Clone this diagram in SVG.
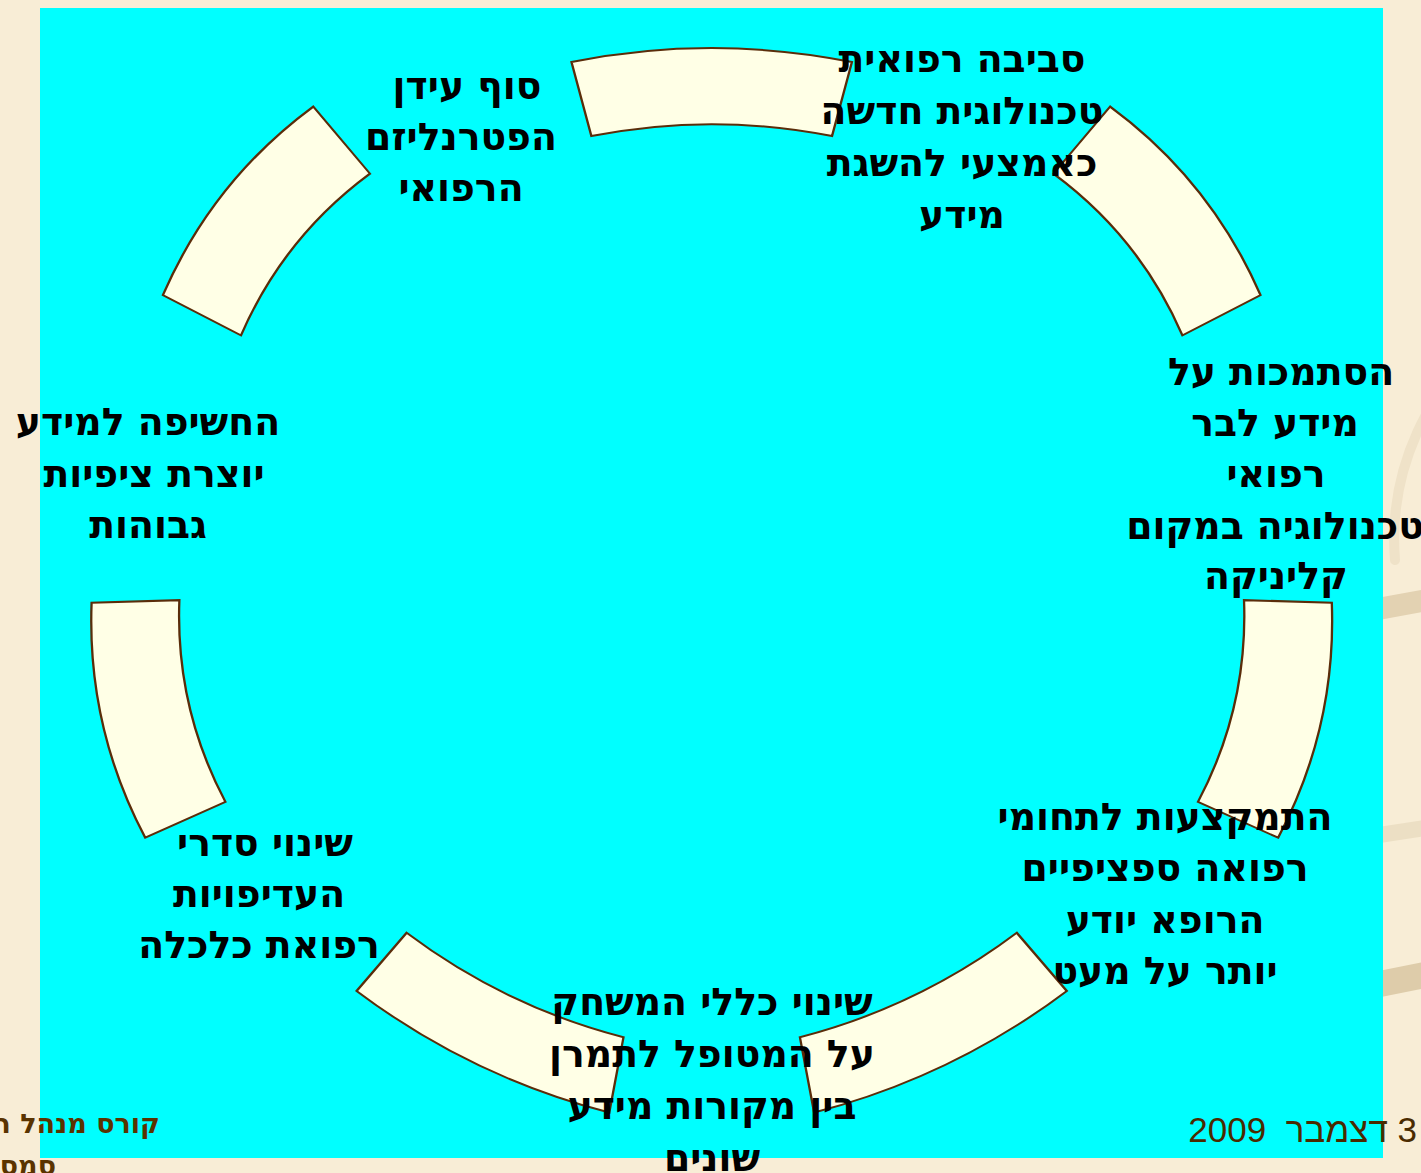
<svg xmlns="http://www.w3.org/2000/svg" width="1421" height="1173" viewBox="0 0 1421 1173">
  <style>
    .arc { fill: #FFFFE6; stroke: #5A2D0A; stroke-width: 2; stroke-linejoin: miter; }
    .lbl { font-family: "DejaVu Sans", "Liberation Sans", sans-serif; font-weight: bold; font-size: 37.8px; fill: #000000; text-anchor: middle; }
    .foot { font-family: "DejaVu Sans", "Liberation Sans", sans-serif; font-weight: bold; font-size: 27px; fill: #5A3300; }
    .date { font-family: "Liberation Sans", "DejaVu Sans", sans-serif; font-size: 35px; fill: #4A2A00; }
    .swoosh { fill: none; stroke-linecap: round; }
  </style>
  <defs>
    <path id="blockArc" d="M -120.57,-522.27 A 536 536 0 0 1 120.57,-522.27 L 103.48,-448.21 A 460 460 0 0 0 -103.48,-448.21 Z"/>
  </defs>

  <!-- background -->
  <rect x="0" y="0" width="1421" height="1173" fill="#F8EDD6"/>
  <g id="background-swooshes">
    <path class="swoosh" d="M 1500,330 A 260 260 0 0 0 1395,560" stroke="#EFE2C8" stroke-width="10"/>
    <path class="swoosh" d="M 1250,640 Q 1350,612 1440,598" stroke="#E3D2B2" stroke-width="22"/>
    <path class="swoosh" d="M 1250,860 Q 1350,838 1440,826" stroke="#ECDFC4" stroke-width="16"/>
    <path class="swoosh" d="M 1250,1010 Q 1350,990 1440,972" stroke="#DECCAA" stroke-width="26"/>
  </g>
  <rect x="40" y="8" width="1343" height="1150" fill="#00FFFF"/>

  <!-- connectors (block arcs) -->
  <g id="connectors">
    <use href="#blockArc" class="arc" transform="translate(711.7,584.3) scale(1.163,1)"/>
    <use href="#blockArc" class="arc" transform="translate(710.4,579.5) rotate(51.43) scale(1,1.163)"/>
    <use href="#blockArc" class="arc" transform="translate(712.8,585) rotate(102.86) scale(1,1.163)"/>
    <use href="#blockArc" class="arc" transform="translate(713.9,581.2) rotate(154.29) scale(1.163,1)"/>
    <use href="#blockArc" class="arc" transform="translate(709.5,581.2) rotate(-154.29) scale(1.163,1)"/>
    <use href="#blockArc" class="arc" transform="translate(710.6,585) rotate(-102.86) scale(1,1.163)"/>
    <use href="#blockArc" class="arc" transform="translate(713,579.5) rotate(-51.43) scale(1,1.163)"/>
  </g>

  <!-- nodes -->
  <g id="node1">
    <text class="lbl" x="962" y="72">סביבה רפואית</text>
    <text class="lbl" x="962" y="124">טכנולוגית חדשה</text>
    <text class="lbl" x="962" y="176">כאמצעי להשגת</text>
    <text class="lbl" x="962" y="228">מידע</text>
  </g>
  <g id="node2">
    <text class="lbl" x="1281" y="385">הסתמכות על</text>
    <text class="lbl" x="1275" y="436">מידע לבר</text>
    <text class="lbl" x="1276" y="487">רפואי</text>
    <text class="lbl" x="1275" y="539">טכנולוגיה במקום</text>
    <text class="lbl" x="1276" y="589">קליניקה</text>
  </g>
  <g id="node3">
    <text class="lbl" x="1165" y="830">התמקצעות לתחומי</text>
    <text class="lbl" x="1165" y="881">רפואה ספציפיים</text>
    <text class="lbl" x="1165" y="933">הרופא יודע</text>
    <text class="lbl" x="1165" y="984">יותר על מעט</text>
  </g>
  <g id="node4">
    <text class="lbl" x="712" y="1015">שינוי כללי המשחק</text>
    <text class="lbl" x="712" y="1067">על המטופל לתמרן</text>
    <text class="lbl" x="712" y="1119">בין מקורות מידע</text>
    <text class="lbl" x="712" y="1171">שונים</text>
  </g>
  <g id="node5">
    <text class="lbl" x="265" y="856">שינוי סדרי</text>
    <text class="lbl" x="259" y="907">העדיפויות</text>
    <text class="lbl" x="259" y="958">רפואת כלכלה</text>
  </g>
  <g id="node6">
    <text class="lbl" x="148" y="435">החשיפה למידע</text>
    <text class="lbl" x="154" y="487">יוצרת ציפיות</text>
    <text class="lbl" x="148" y="538">גבוהות</text>
  </g>
  <g id="node7">
    <text class="lbl" x="467" y="99">סוף עידן</text>
    <text class="lbl" x="461" y="150">הפטרנליזם</text>
    <text class="lbl" x="461" y="201">הרפואי</text>
  </g>

  <!-- footer -->
  <g id="footer">
    <text class="foot" x="160" y="1133" direction="rtl" text-anchor="start">קורס מנהל ר</text>
    <text class="foot" x="56" y="1175" direction="rtl" text-anchor="start">סמס</text>
    <text class="date" x="1417" y="1142" direction="rtl" text-anchor="start" xml:space="preserve">3 דצמבר  2009</text>
  </g>
</svg>
